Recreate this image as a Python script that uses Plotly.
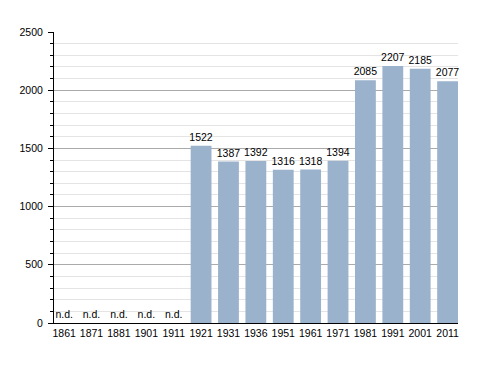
import plotly.graph_objects as go

years = ["1861", "1871", "1881", "1901", "1911", "1921", "1931", "1936",
         "1951", "1961", "1971", "1981", "1991", "2001", "2011"]
population = [None, None, None, None, None, 1522, 1387, 1392,
              1316, 1318, 1394, 2085, 2207, 2185, 2077]
y_ticks = [0, 500, 1000, 1500, 2000, 2500]

bar_vals = [v if v is not None else 0 for v in population]
labels = [str(v) if v is not None else "n.d." for v in population]

FONT = "Liberation Sans, Arial, sans-serif"

fig = go.Figure(go.Bar(
    x=years, y=bar_vals, text=labels, textposition="outside",
    constraintext="none",
    textfont=dict(size=10.5, color="black", family=FONT),
    marker=dict(color="#9ab2cb", line=dict(width=0)),
    cliponaxis=False,
))

fig.update_layout(
    width=480, height=365,
    margin=dict(l=42, r=30, t=24, b=50),
    paper_bgcolor="white", plot_bgcolor="white",
    bargap=0.24,
    showlegend=False,
    font=dict(family=FONT, size=10.5, color="black"),
)
fig.update_xaxes(
    type="category", range=[-0.37, 14.38],
    showline=True, linecolor="black", linewidth=1,
    ticks="", showgrid=False, tickfont=dict(size=10.5, color="black"),
)
fig.update_yaxes(
    range=[0, 2500], tickvals=y_ticks, showline=True, linecolor="black", linewidth=1,
    ticks="outside", ticklen=5, tickcolor="black", ticklabelstandoff=3,
    showgrid=True, gridcolor="#aaaaaa", gridwidth=1, zeroline=False,
    tickfont=dict(size=10.5, color="black"),
    minor=dict(dtick=100, tick0=0, ticks="outside", ticklen=3, tickcolor="black",
               showgrid=True, gridcolor="#e4e4e4", gridwidth=1),
)

fig.write_html("out.html")
